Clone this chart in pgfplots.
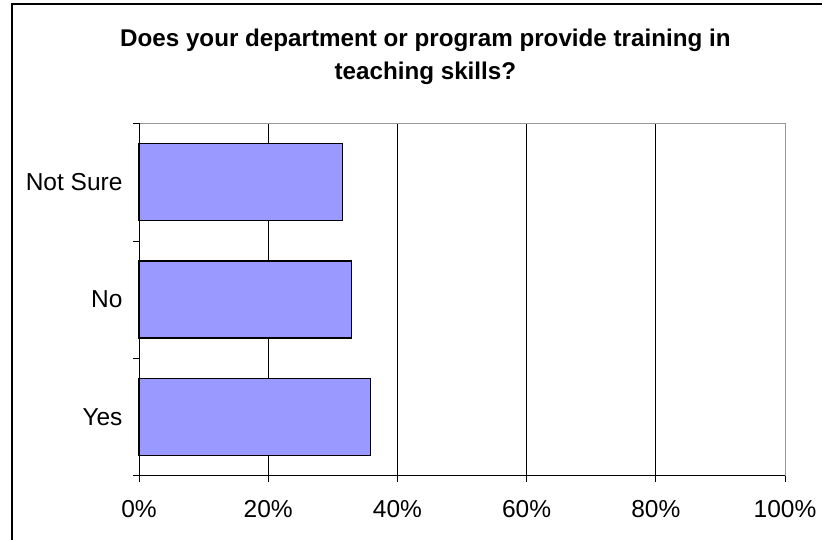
\documentclass[border=0pt]{standalone}
\usepackage{fontspec}
\setmainfont{Liberation Sans}
\usepackage{pgfplots}
\pgfplotsset{compat=1.18}
\definecolor{barfill}{HTML}{9999FF}
\begin{document}
\begin{tikzpicture}[x=1pt,y=1pt]
\useasboundingbox (0,0) rectangle (822,539);
\draw[black, line width=1.3pt] (12,-10) -- (12,535) -- (840,535);
\node[anchor=base, font=\fontsize{24.2}{28}\selectfont\bfseries] at (425.4,492.3) {Does your department or program provide training in};
\node[anchor=base, font=\fontsize{24.2}{28}\selectfont\bfseries] at (425.4,459.3) {teaching skills?};
\begin{axis}[
  at={(139pt,63.3pt)}, anchor=south west,
  scale only axis, width=646pt, height=352.2pt,
  xbar, bar width=77pt,
  xmin=0, xmax=100, ymin=-0.5, ymax=2.5,
  xtick={0,20,40,60,80,100},
  xticklabels={0\%,20\%,40\%,60\%,80\%,100\%},
  ytick={-0.5,0.5,1.5,2.5}, yticklabels={},
  extra y ticks={0,1,2},
  extra y tick labels={Yes,No,Not Sure},
  extra y tick style={tick style={draw=none}, grid=none},
  tick align=outside, tick pos=left,
  major tick length=6pt,
  tick style={black, line width=0.8pt},
  xmajorgrids, grid style={black, line width=0.8pt},
  axis line style={draw=none},
  ticklabel style={font=\fontsize{24.5}{28}\selectfont},
  xticklabel style={yshift=-15pt},
  yticklabel style={xshift=-7pt},
  clip=false,
]
\addplot[fill=barfill, draw=black, line width=1.5pt] coordinates {(35.8,0) (32.9,1) (31.5,2)};
\draw[gray!80, line width=1pt] (rel axis cs:0,1) -- (rel axis cs:1,1) -- (rel axis cs:1,0);
\draw[black, line width=1pt] (rel axis cs:0,1) -- (rel axis cs:0,0) -- (rel axis cs:1,0);
\end{axis}
\end{tikzpicture}
\end{document}
